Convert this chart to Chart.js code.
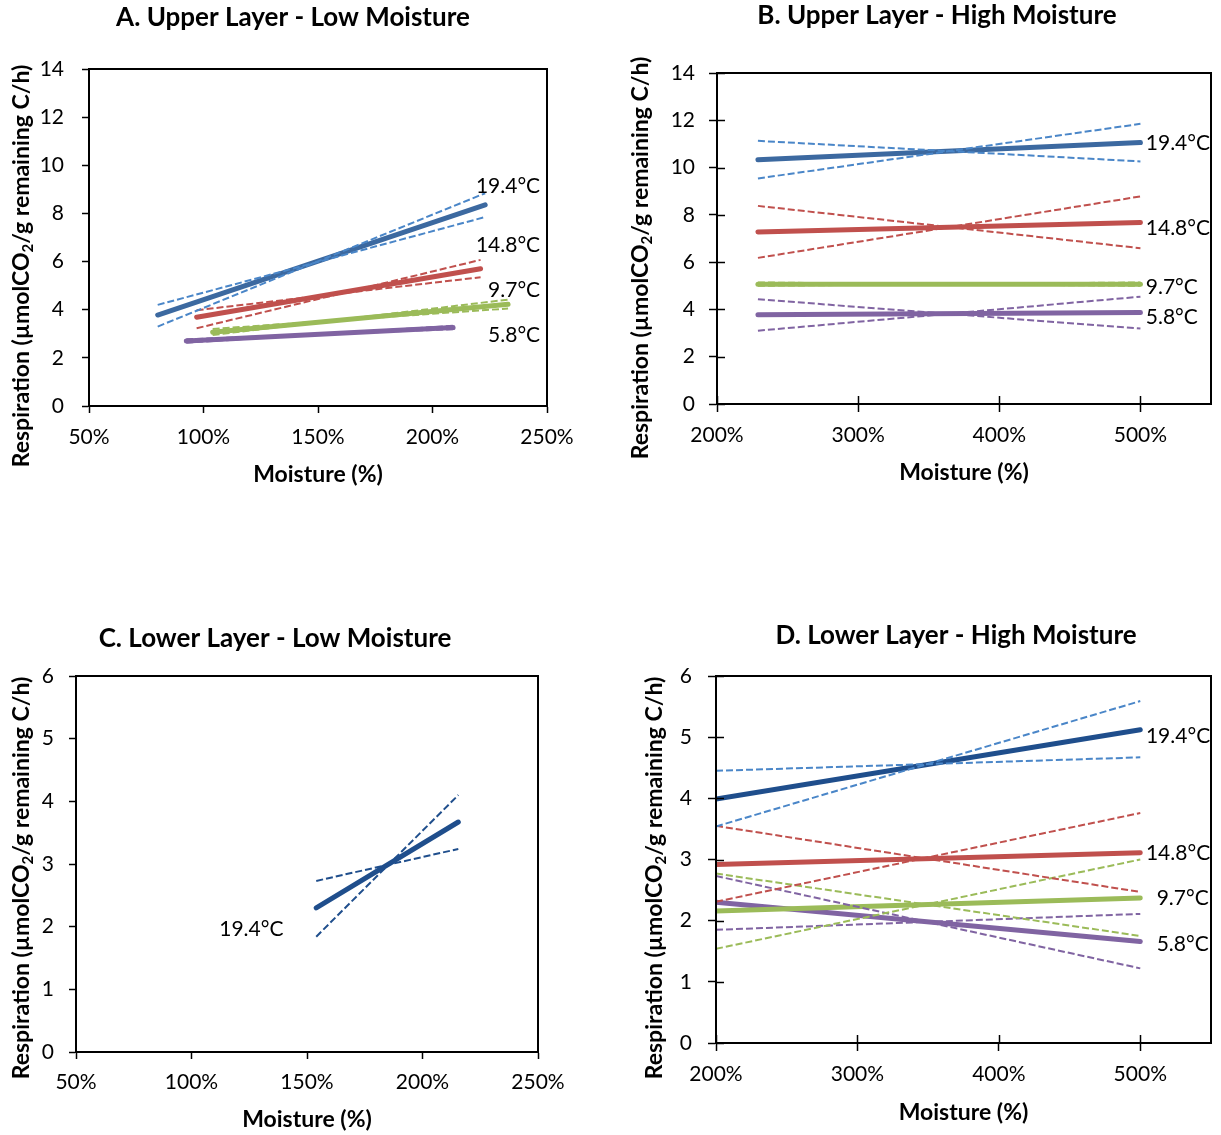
<!DOCTYPE html>
<html>
<head>
<meta charset="utf-8">
<script src="https://cdn.jsdelivr.net/npm/chart.js@4.4.0/dist/chart.umd.min.js"></script>
<style>
  body { margin: 0; background: #fff; }
  #wrap { position: relative; width: 1221px; height: 1135px; }
  canvas { position: absolute; }
</style>
</head>
<body>
<div id="wrap">
  <canvas id="chartA" width="610" height="500" style="left:0;top:0"></canvas>
  <canvas id="chartB" width="611" height="500" style="left:610px;top:0"></canvas>
  <canvas id="chartC" width="610" height="575" style="left:0;top:560px"></canvas>
  <canvas id="chartD" width="611" height="575" style="left:610px;top:560px"></canvas>
</div>
<script>
// Temperature series, same order in every panel
const temps = ['19.4°C', '14.8°C', '9.7°C', '5.8°C'];

// A. Upper layer - low moisture (start / end of each fitted line)
const aMoist = [[80, 223], [97, 221], [104, 233], [92.5, 209]];
const aFit   = [[3.78, 8.36], [3.69, 5.70], [3.06, 4.23], [2.70, 3.26]];
const aBand1 = [[4.20, 7.85], [3.98, 5.35], [3.20, 4.05], [2.77, 3.19]];
const aBand2 = [[3.30, 8.84], [3.23, 6.07], [2.95, 4.42], [2.63, 3.33]];

// B. Upper layer - high moisture
const bMoist = [[229, 500], [229, 500], [229, 500], [229, 500]];
const bFit   = [[10.33, 11.06], [7.28, 7.68], [5.07, 5.07], [3.77, 3.87]];
const bBand1 = [[11.13, 10.26], [8.38, 6.59], [5.14, 5.00], [4.43, 3.19]];
const bBand2 = [[9.54, 11.85], [6.18, 8.78], [5.00, 5.14], [3.10, 4.54]];

// C. Lower layer - low moisture (only 19.4°C)
const cMoist = [[154, 215.5]];
const cFit   = [[2.30, 3.67]];
const cBand1 = [[1.84, 4.10]];
const cBand2 = [[2.73, 3.24]];

// D. Lower layer - high moisture
const dMoist = [[200, 500], [200, 500], [200, 500], [200, 500]];
const dFit   = [[3.99, 5.12], [2.92, 3.11], [2.16, 2.37], [2.30, 1.66]];
const dBand1 = [[4.45, 4.67], [3.55, 2.47], [2.77, 1.75], [2.73, 1.22]];
const dBand2 = [[3.54, 5.59], [2.31, 3.76], [1.54, 3.00], [1.85, 2.11]];

// Axis ticks
const lowMoistTicks  = [50, 100, 150, 200, 250];
const highMoistTicks = [200, 300, 400, 500];
const upperRespTicks = [0, 2, 4, 6, 8, 10, 12, 14];
const lowerRespTicks = [0, 1, 2, 3, 4, 5, 6];

const FONT = 'Lato, "Open Sans", sans-serif';
Chart.defaults.font.family = FONT;
Chart.defaults.color = '#000';

const fitColors  = ['#3c69a0', '#c0504d', '#9bbb59', '#8064a2'];
const bandColors = ['#4a86c8', '#c0504d', '#9bbb59', '#8064a2'];
const darkBlue = '#1f4e8c';

// Build solid fit line + two dashed bound lines per temperature
function makeDatasets(moist, fit, band1, band2, fitCols, bandCols) {
    const sets = [];
    fit.forEach((f, i) => {
        const xs = moist[i];
        sets.push({
            label: temps[i],
            data: [{ x: xs[0], y: f[0] }, { x: xs[1], y: f[1] }],
            borderColor: fitCols[i],
            borderWidth: 5,
            borderCapStyle: 'round',
            order: 1
        });
        [band1[i], band2[i]].forEach(b => {
            sets.push({
                label: temps[i] + ' bound',
                data: [{ x: xs[0], y: b[0] }, { x: xs[1], y: b[1] }],
                borderColor: bandCols[i],
                borderWidth: 2,
                borderDash: [7, 3],
                order: 0
            });
        });
    });
    return sets;
}

// Box, inner tick marks, panel title, y title (with subscript) and series labels
const panelDecor = {
    id: 'panelDecor',
    afterDraw(chart, args, opts) {
        const ctx = chart.ctx;
        const area = chart.chartArea;
        const xs = chart.scales.x, ys = chart.scales.y;
        ctx.save();
        ctx.strokeStyle = '#000';
        ctx.lineWidth = 2;
        ctx.strokeRect(area.left, area.top, area.right - area.left, area.bottom - area.top);

        if (opts.crossTicks) {
            ctx.lineWidth = 1.5;
            ctx.beginPath();
            xs.ticks.forEach(t => {
                const px = Math.round(xs.getPixelForValue(t.value)) + 0.5;
                ctx.moveTo(px, area.bottom);
                ctx.lineTo(px, area.bottom - 8);
            });
            ys.ticks.forEach(t => {
                const py = Math.round(ys.getPixelForValue(t.value)) + 0.5;
                ctx.moveTo(area.left, py);
                ctx.lineTo(area.left + 8, py);
            });
            ctx.stroke();
        }

        ctx.fillStyle = '#000';
        ctx.textBaseline = 'middle';

        // panel title
        ctx.font = 'bold 26px ' + FONT;
        ctx.textAlign = 'center';
        ctx.fillText(opts.title, opts.titleX, opts.titleY);

        // rotated y axis title with CO2 subscript
        const p1 = 'Respiration (µmolCO', p2 = '2', p3 = '/g remaining C/h)';
        const mainFont = 'bold 23px ' + FONT, subFont = 'bold 15px ' + FONT;
        ctx.font = mainFont;
        const w1 = ctx.measureText(p1).width, w3 = ctx.measureText(p3).width;
        ctx.font = subFont;
        const w2 = ctx.measureText(p2).width;
        const total = w1 + w2 + w3;
        ctx.translate(opts.yTitleX, opts.yTitleY);
        ctx.rotate(-Math.PI / 2);
        ctx.textAlign = 'left';
        let pos = -total / 2;
        ctx.font = mainFont;
        ctx.fillText(p1, pos, 0);
        pos += w1;
        ctx.font = subFont;
        ctx.fillText(p2, pos, 6);
        pos += w2;
        ctx.font = mainFont;
        ctx.fillText(p3, pos, 0);
        ctx.setTransform(1, 0, 0, 1, 0, 0);

        // series labels at data coordinates
        ctx.font = '21px ' + FONT;
        opts.labels.forEach(l => {
            ctx.textAlign = l.align;
            ctx.fillText(l.text, xs.getPixelForValue(l.x), ys.getPixelForValue(l.y));
        });
        ctx.restore();
    }
};

function buildPanel(id, p) {
    const tickGrid = {
        drawOnChartArea: false,
        drawTicks: true,
        tickLength: p.tickLen,
        tickColor: '#000',
        tickWidth: 1.5
    };
    return new Chart(document.getElementById(id), {
        type: 'line',
        data: { datasets: p.datasets },
        options: {
            responsive: false,
            animation: false,
            events: [],
            layout: { padding: p.padding },
            elements: { point: { radius: 0 }, line: { tension: 0 } },
            plugins: {
                legend: { display: false },
                tooltip: { enabled: false },
                panelDecor: p.decor
            },
            scales: {
                x: {
                    type: 'linear',
                    min: p.xMin,
                    max: p.xMax,
                    afterBuildTicks: s => { s.ticks = p.xTicks.map(v => ({ value: v })); },
                    afterFit: s => { s.height = p.xH; },
                    grid: tickGrid,
                    border: { display: true, color: '#000', width: 2 },
                    ticks: {
                        padding: p.xPad,
                        autoSkip: false,
                        maxRotation: 0,
                        font: { size: 21 },
                        callback: v => v + '%'
                    },
                    title: {
                        display: true,
                        text: 'Moisture (%)',
                        font: { size: 23, weight: 'bold' },
                        padding: { top: 0, bottom: p.xTitlePad }
                    }
                },
                y: {
                    min: 0,
                    max: p.yMax,
                    afterBuildTicks: s => { s.ticks = p.yTicks.map(v => ({ value: v })); },
                    afterFit: s => { s.width = p.yW; },
                    grid: tickGrid,
                    border: { display: true, color: '#000', width: 2 },
                    ticks: { padding: p.yPad, font: { size: 21 } }
                }
            }
        },
        plugins: [panelDecor]
    });
}

buildPanel('chartA', {
    datasets: makeDatasets(aMoist, aFit, aBand1, aBand2, fitColors, bandColors),
    padding: { left: 0, top: 69, right: 63, bottom: 0 },
    xMin: 50, xMax: 250, xTicks: lowMoistTicks,
    yMax: 14, yTicks: upperRespTicks,
    tickLen: 7, xH: 94, xPad: 12, xTitlePad: 12, yW: 89, yPad: 18,
    decor: {
        title: 'A. Upper Layer - Low Moisture', titleX: 293, titleY: 18,
        yTitleX: 22, yTitleY: 266, crossTicks: false,
        labels: [
            { text: temps[0], x: 247, y: 9.12, align: 'right' },
            { text: temps[1], x: 247, y: 6.69, align: 'right' },
            { text: temps[2], x: 247, y: 4.82, align: 'right' },
            { text: temps[3], x: 247, y: 2.95, align: 'right' }
        ]
    }
});

buildPanel('chartB', {
    datasets: makeDatasets(bMoist, bFit, bBand1, bBand2, fitColors, bandColors),
    padding: { left: 0, top: 73, right: 10, bottom: 0 },
    xMin: 200, xMax: 550, xTicks: highMoistTicks,
    yMax: 14, yTicks: upperRespTicks,
    tickLen: 8, xH: 96, xPad: 11, xTitlePad: 14, yW: 107, yPad: 14,
    decor: {
        title: 'B. Upper Layer - High Moisture', titleX: 327, titleY: 16,
        yTitleX: 31, yTitleY: 258, crossTicks: true,
        labels: [
            { text: temps[0], x: 503.8, y: 11.04, align: 'left' },
            { text: temps[1], x: 503.8, y: 7.44, align: 'left' },
            { text: temps[2], x: 503.8, y: 4.92, align: 'left' },
            { text: temps[3], x: 503.8, y: 3.67, align: 'left' }
        ]
    }
});

buildPanel('chartC', {
    datasets: makeDatasets(cMoist, cFit, cBand1, cBand2, [darkBlue], [darkBlue]),
    padding: { left: 0, top: 116, right: 72, bottom: 0 },
    xMin: 50, xMax: 250, xTicks: lowMoistTicks,
    yMax: 6, yTicks: lowerRespTicks,
    tickLen: 7, xH: 83, xPad: 11, xTitlePad: 2, yW: 76, yPad: 15,
    decor: {
        title: 'C. Lower Layer - Low Moisture', titleX: 275, titleY: 79,
        yTitleX: 22, yTitleY: 318, crossTicks: false,
        labels: [
            { text: temps[0], x: 125.9, y: 1.96, align: 'center' }
        ]
    }
});

buildPanel('chartD', {
    datasets: makeDatasets(dMoist, dFit, dBand1, dBand2, [darkBlue].concat(fitColors.slice(1)), bandColors),
    padding: { left: 0, top: 116, right: 10, bottom: 0 },
    xMin: 200, xMax: 550, xTicks: highMoistTicks,
    yMax: 6, yTicks: lowerRespTicks,
    tickLen: 8, xH: 92, xPad: 11, xTitlePad: 9, yW: 106, yPad: 16,
    decor: {
        title: 'D. Lower Layer - High Moisture', titleX: 346, titleY: 76,
        yTitleX: 45, yTitleY: 318, crossTicks: true,
        labels: [
            { text: temps[0], x: 504, y: 5.01, align: 'left' },
            { text: temps[1], x: 504, y: 3.10, align: 'left' },
            { text: temps[2], x: 511.6, y: 2.36, align: 'left' },
            { text: temps[3], x: 511.6, y: 1.62, align: 'left' }
        ]
    }
});
</script>
</body>
</html>
